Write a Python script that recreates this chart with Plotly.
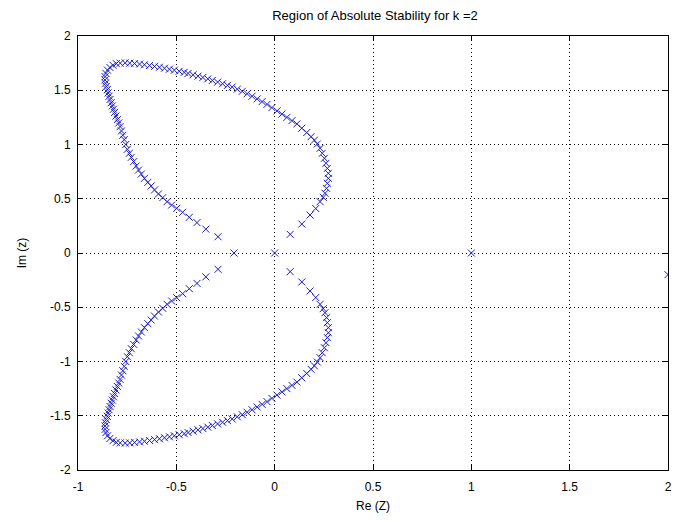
import plotly.graph_objects as go

# Upper half of the boundary locus, from origin round to (-0.207, 0)
upper_re = [0.0, 0.079, 0.138, 0.18, 0.209, 0.231, 0.247, 0.256, 0.264, 0.268,
            0.273, 0.273, 0.268, 0.261, 0.253, 0.242, 0.231, 0.217, 0.202, 0.185,
            0.163, 0.138, 0.113, 0.088, 0.062, 0.037, 0.012, -0.014, -0.039, -0.064,
            -0.089, -0.115, -0.14, -0.165, -0.19, -0.216, -0.24, -0.265, -0.29, -0.317,
            -0.34, -0.365, -0.39, -0.415, -0.44, -0.46, -0.485, -0.51, -0.535, -0.56,
            -0.586, -0.611, -0.636, -0.662, -0.687, -0.712, -0.737, -0.76, -0.785, -0.805,
            -0.822, -0.838, -0.85, -0.858, -0.862, -0.863, -0.86, -0.856, -0.851, -0.847,
            -0.842, -0.837, -0.831, -0.826, -0.82, -0.814, -0.807, -0.8, -0.793, -0.786,
            -0.779, -0.772, -0.765, -0.757, -0.749, -0.739, -0.729, -0.717, -0.704, -0.692,
            -0.678, -0.662, -0.645, -0.628, -0.611, -0.591, -0.569, -0.547, -0.524, -0.498,
            -0.468, -0.434, -0.395, -0.35, -0.288, -0.207]
upper_im = [0.0, 0.172, 0.267, 0.35, 0.41, 0.473, 0.513, 0.55, 0.596, 0.642,
            0.688, 0.735, 0.78, 0.827, 0.873, 0.919, 0.965, 1.005, 1.04, 1.072,
            1.11, 1.15, 1.19, 1.22, 1.25, 1.28, 1.31, 1.34, 1.37, 1.395,
            1.42, 1.445, 1.468, 1.49, 1.51, 1.53, 1.545, 1.56, 1.575, 1.59,
            1.605, 1.618, 1.63, 1.642, 1.655, 1.665, 1.675, 1.685, 1.694, 1.703,
            1.712, 1.72, 1.728, 1.735, 1.741, 1.746, 1.75, 1.752, 1.75, 1.745,
            1.73, 1.71, 1.685, 1.655, 1.625, 1.595, 1.565, 1.535, 1.505, 1.475,
            1.445, 1.415, 1.385, 1.355, 1.325, 1.295, 1.262, 1.23, 1.198, 1.165,
            1.125, 1.085, 1.045, 1.0, 0.956, 0.919, 0.882, 0.842, 0.802, 0.765,
            0.728, 0.688, 0.651, 0.618, 0.581, 0.544, 0.51, 0.473, 0.442, 0.412,
            0.375, 0.329, 0.28, 0.22, 0.15, 0.0]

# Lower half, from (-0.288, -0.15) back round towards origin
lower_re = [-0.288, -0.35, -0.395, -0.434, -0.468, -0.498, -0.524, -0.547, -0.569, -0.591,
            -0.611, -0.628, -0.645, -0.662, -0.678, -0.692, -0.704, -0.717, -0.729, -0.739,
            -0.749, -0.757, -0.765, -0.772, -0.779, -0.786, -0.793, -0.8, -0.807, -0.814,
            -0.82, -0.826, -0.831, -0.837, -0.842, -0.847, -0.851, -0.856, -0.86, -0.863,
            -0.862, -0.858, -0.85, -0.838, -0.822, -0.805, -0.785, -0.76, -0.737, -0.712,
            -0.687, -0.662, -0.636, -0.611, -0.586, -0.56, -0.535, -0.51, -0.485, -0.46,
            -0.44, -0.415, -0.39, -0.365, -0.34, -0.317, -0.29, -0.265, -0.24, -0.216,
            -0.19, -0.165, -0.14, -0.115, -0.089, -0.064, -0.039, -0.014, 0.012, 0.037,
            0.062, 0.088, 0.113, 0.138, 0.163, 0.185, 0.202, 0.217, 0.231, 0.242,
            0.253, 0.261, 0.268, 0.273, 0.273, 0.268, 0.264, 0.256, 0.247, 0.231,
            0.209, 0.18, 0.138, 0.079]
lower_im = [-0.15, -0.22, -0.28, -0.329, -0.375, -0.412, -0.442, -0.473, -0.51, -0.544,
            -0.581, -0.618, -0.651, -0.688, -0.728, -0.765, -0.802, -0.842, -0.882, -0.919,
            -0.956, -1.0, -1.045, -1.085, -1.125, -1.165, -1.198, -1.23, -1.262, -1.295,
            -1.325, -1.355, -1.385, -1.415, -1.445, -1.475, -1.505, -1.535, -1.565, -1.595,
            -1.625, -1.655, -1.685, -1.71, -1.73, -1.745, -1.75, -1.752, -1.75, -1.746,
            -1.741, -1.735, -1.728, -1.72, -1.712, -1.703, -1.694, -1.685, -1.675, -1.665,
            -1.655, -1.642, -1.63, -1.618, -1.605, -1.59, -1.575, -1.56, -1.545, -1.53,
            -1.51, -1.49, -1.468, -1.445, -1.42, -1.395, -1.37, -1.34, -1.31, -1.28,
            -1.25, -1.22, -1.19, -1.15, -1.11, -1.072, -1.04, -1.005, -0.965, -0.919,
            -0.873, -0.827, -0.78, -0.735, -0.688, -0.642, -0.596, -0.55, -0.513, -0.473,
            -0.41, -0.35, -0.267, -0.172]

# Isolated points
extra_re = [1.0, 2.0]
extra_im = [0.0, -0.2]

x_ticks = [-1, -0.5, 0, 0.5, 1, 1.5, 2]
x_labels = ["-1", "-0.5", "0", "0.5", "1", "1.5", "2"]
y_ticks = [-2, -1.5, -1, -0.5, 0, 0.5, 1, 1.5, 2]
y_labels = ["-2", "-1.5", "-1", "-0.5", "0", "0.5", "1", "1.5", "2"]

xs = upper_re + lower_re + extra_re
ys = upper_im + lower_im + extra_im

fig = go.Figure()
fig.add_trace(go.Scatter(
    x=xs, y=ys, mode="markers",
    marker=dict(symbol="x-thin-open", size=7, color="#1a1acc",
                line=dict(width=1, color="#1a1acc")),
    cliponaxis=True, showlegend=False,
))

font = dict(family="Liberation Sans, Arial, sans-serif", size=12, color="black")
axis_common = dict(
    showline=True, linecolor="black", linewidth=1, mirror="ticks",
    ticks="inside", ticklen=5, tickcolor="black",
    showgrid=True, gridcolor="black", griddash="1px,3px", gridwidth=1,
    zeroline=False, tickfont=font,
)
fig.update_xaxes(range=[-1, 2], tickvals=x_ticks, ticktext=x_labels,
                 ticklabelstandoff=6,
                 title=dict(text="Re (Z)", font=font, standoff=8), **axis_common)
fig.update_yaxes(range=[-2, 2], tickvals=y_ticks, ticktext=y_labels,
                 ticklabelstandoff=4,
                 title=dict(text="Im (z)", font=font, standoff=20), **axis_common)

fig.update_layout(
    width=678, height=524,
    margin=dict(l=78, r=6, t=36, b=54),
    paper_bgcolor="white", plot_bgcolor="white",
    title=dict(text="Region of Absolute Stability for k =2",
               x=(78 + 672) / 2 / 678, xanchor="center",
               y=1 - 15 / 524, yanchor="middle", yref="container",
               font=dict(family="Liberation Sans, Arial, sans-serif", size=13, color="black")),
    font=font,
)

fig.write_html("out.html")
